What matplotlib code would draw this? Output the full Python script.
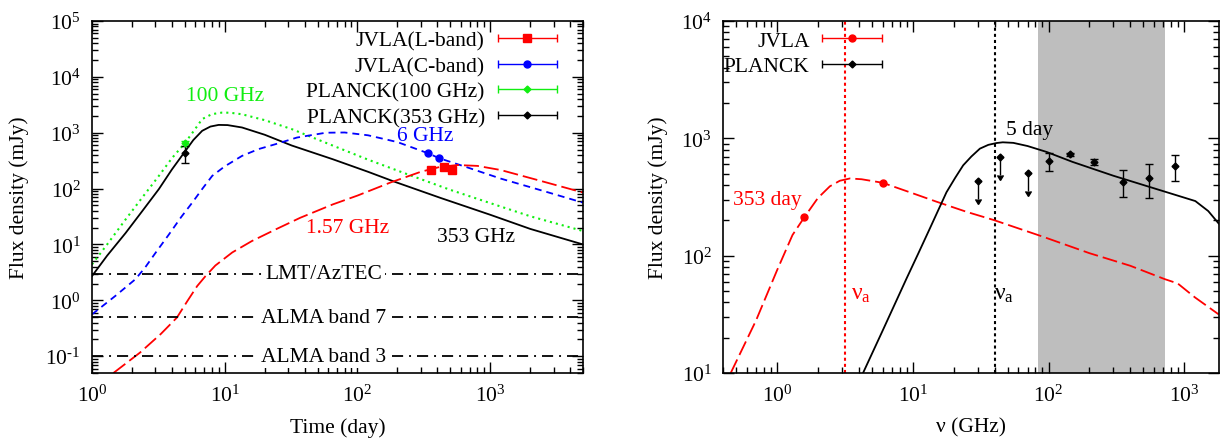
import numpy as np
import matplotlib
matplotlib.use('Agg')
import matplotlib.pyplot as plt
from matplotlib.container import ErrorbarContainer
from matplotlib.legend_handler import HandlerErrorbar
from matplotlib.ticker import LogLocator, FuncFormatter, NullFormatter

plt.rcParams['font.family'] = ['Liberation Serif', 'DejaVu Serif']
plt.rcParams['mathtext.fontset'] = 'custom'
plt.rcParams['mathtext.rm'] = 'Liberation Serif'
plt.rcParams['mathtext.it'] = 'Liberation Serif:italic'
plt.rcParams['font.size'] = 15.5
plt.rcParams['lines.scale_dashes'] = False
plt.rcParams['axes.linewidth'] = 1.2

# ---- light curves (time in days, flux in mJy)
t_353 = [1, 1.3, 1.79, 2.4, 3.19, 4, 5.06, 5.8, 6.76, 7.8, 9.0, 10.5, 13.5, 20, 32, 65, 120, 188, 423, 1000, 2000, 5000]
f_353 = [2.72, 6.3, 16, 40, 98, 220, 474, 740, 1082, 1290, 1380, 1370, 1241, 920, 590, 336, 200, 134, 68, 34, 19, 10]

t_100 = [1, 1.3, 1.79, 2.4, 3.19, 4, 5, 5.8, 6.76, 8, 9.5, 11, 13.5, 20, 32, 65, 120, 237, 500, 1000, 2000, 5000]
f_100 = [4.4, 10, 28, 70, 169, 350, 650, 1050, 1754, 2150, 2290, 2280, 2140, 1680, 1160, 590, 330, 181, 95, 55, 32, 17.4]

t_6 = [1, 1.5, 2.12, 2.5, 3, 3.79, 4.7, 5.69, 6.8, 8.05, 10, 13.5, 18, 24.2, 35, 57.7, 80, 120, 200, 341, 411, 700, 1200, 2500, 5000]
f_6 = [0.56, 1.2, 2.38, 3.8, 7.0, 15, 31, 56, 100, 169, 250, 385, 510, 625, 820, 1000, 1010, 900, 680, 428, 351, 232, 151, 91, 56]

t_157 = [1.45, 2.3, 3.3, 4.36, 5.2, 6.2, 7.17, 8.5, 11.4, 16, 24.2, 37, 65, 100, 178, 300, 420, 565, 800, 1200, 2140, 5000]
f_157 = [0.05, 0.116, 0.25, 0.49, 0.95, 1.8, 2.72, 4.2, 7.2, 11.5, 18.6, 30, 52, 75, 129, 200, 245, 264, 255, 215, 148, 85]

# sensitivity levels (mJy)
limit_levels = [3.0, 0.5, 0.1]
limit_names = ['LMT/AzTEC', 'ALMA band 7', 'ALMA band 3']

# observed points, left panel
lband_t = [356, 448, 518]
lband_f = [214, 241, 214]
cband_t = [341, 411]
cband_f = [428, 351]
pl100_t = [5]
pl100_f = [650]
pl100_err = [60]
pl353_t = [5]
pl353_f = [430]
pl353_err = [145]

# ---- spectra (frequency in GHz, flux in mJy)
nu_353d = [0.456, 0.7, 1.0, 1.3, 1.6, 2.0, 2.45, 2.9, 3.44, 4.2, 6, 10, 15, 25, 39.6, 91, 200, 400, 720, 893, 1200, 1790]
s_353d = [10, 28, 75, 150, 215, 310, 390, 435, 455, 448, 418, 340, 288, 236, 201, 145, 105, 82, 63, 58, 44, 31.6]

nu_5d = [4.3, 6, 9.0, 11, 13.4, 17.7, 20.5, 23.5, 27, 31.2, 36, 41.4, 46, 55, 70, 96.6, 150, 300, 720, 1205, 1500, 1790]
s_5d = [10, 23, 64, 105, 172, 347, 460, 589, 700, 817, 880, 912, 925, 915, 860, 766, 630, 480, 351, 292, 240, 188]

nu_a_353d = 3.19
nu_a_5d = 40
band_lo, band_hi = 83, 720

jvla_nu = [1.57, 6.0]
jvla_s = [212, 418]
planck_nu = [100, 143, 217, 353, 545, 857]
planck_s = [638, 731, 631, 427, 460, 582]
planck_err = [110, 25, 35, 110, 150, 145]
planck_ul_nu = [30, 44, 70]
planck_ul_s = [431, 692, 508]

RED = '#ff0000'
BLUE = '#0000ff'
GREEN = '#11ee11'


def pow10_label(v, pos):
    # plain hyphen in the exponent, as in the printed axes
    e = int(round(np.log10(v)))
    s = str(abs(e)) if e >= 0 else '\u2010' + str(abs(e))
    return r'$\mathdefault{10^{%s}}$' % s


def style_axes(ax):
    ax.set_xscale('log')
    ax.set_yscale('log')
    for axis in (ax.xaxis, ax.yaxis):
        axis.set_major_locator(LogLocator(base=10, numticks=20))
        axis.set_minor_locator(LogLocator(base=10, subs=np.arange(2, 10), numticks=50))
        axis.set_major_formatter(FuncFormatter(pow10_label))
        axis.set_minor_formatter(NullFormatter())
    ax.tick_params(which='both', direction='in', top=True, right=True, width=1.0, pad=8)
    ax.tick_params(which='major', length=8)
    ax.tick_params(which='minor', length=4)


def proxy(ax, color, marker, ms, label):
    return ax.errorbar([np.nan], [np.nan], xerr=[1], fmt=marker, color=color, ms=ms,
                       capsize=3, elinewidth=1.0, label=label)


fig = plt.figure(figsize=(12.2, 4.39), dpi=100)
ax1 = fig.add_axes([92 / 1220, 1 - 374 / 439, 491 / 1220, 352 / 439])
ax2 = fig.add_axes([723 / 1220, 1 - 374 / 439, 496 / 1220, 352 / 439])

# ---------------- left: light curves
ax1.plot(t_353, f_353, color='k', lw=1.3)
ax1.plot(t_100, f_100, color=GREEN, lw=1.5, dashes=(1.5, 2.9))
ax1.plot(t_6, f_6, color=BLUE, lw=1.3, dashes=(5, 3.6))
ax1.plot(t_157, f_157, color=RED, lw=1.3, dashes=(10.8, 3.6))

for level, name in zip(limit_levels, limit_names):
    ax1.axhline(level, color='k', lw=1.3, dashes=(8, 4.3, 1.4, 4.3))
    ax1.text(56, level, name, ha='center', va='center',
             bbox=dict(facecolor='white', edgecolor='none', pad=1.5))

ax1.plot(lband_t, lband_f, 's', color=RED, ms=5.5)
ax1.plot(cband_t, cband_f, 'o', color=BLUE, ms=5)
ax1.errorbar(pl100_t, pl100_f, yerr=pl100_err, fmt='D', color=GREEN, ms=3.5,
             capsize=3, elinewidth=1.0)
ax1.errorbar(pl353_t, pl353_f, yerr=pl353_err, fmt='D', color='k', ms=3.5,
             capsize=3, elinewidth=1.0)

ax1.text(10.1, 4570, '100 GHz', color=GREEN, ha='center', va='center')
ax1.text(326, 900, '6 GHz', color=BLUE, ha='center', va='center')
ax1.text(84, 20, '1.57 GHz', color=RED, ha='center', va='center')
ax1.text(780, 14, '353 GHz', color='k', ha='center', va='center')

style_axes(ax1)
ax1.set_xlim(1, 5000)
ax1.set_ylim(0.05, 1e5)
ax1.set_xlabel('Time (day)')
ax1.set_ylabel('Flux density (mJy)')
ax1.xaxis.set_label_coords(0.5, -0.125)
ax1.yaxis.set_label_coords(-0.128, 0.5)

h1 = [proxy(ax1, RED, 's', 5.5, 'JVLA(L-band)'),
      proxy(ax1, BLUE, 'o', 5, 'JVLA(C-band)'),
      proxy(ax1, GREEN, 'D', 3.5, 'PLANCK(100 GHz)'),
      proxy(ax1, 'k', 'D', 3.5, 'PLANCK(353 GHz)')]
ax1.legend(handles=h1, loc='upper right', bbox_to_anchor=(0.947, 0.972),
           frameon=False, markerfirst=False, handlelength=2.75, handletextpad=0.6,
           labelspacing=0.25, borderpad=0, borderaxespad=0,
           handler_map={ErrorbarContainer: HandlerErrorbar(xerr_size=1.38)})

# ---------------- right: spectra
ax2.axvspan(band_lo, band_hi, color='#bebebe', lw=0, zorder=0)
ax2.axvline(nu_a_353d, color=RED, lw=1.5, dashes=(2.2, 2.2))
ax2.axvline(nu_a_5d, color='k', lw=1.5, dashes=(2.2, 2.2))
ax2.plot(nu_353d, s_353d, color=RED, lw=1.3, dashes=(10.8, 3.6))
ax2.plot(nu_5d, s_5d, color='k', lw=1.3)

ax2.plot(jvla_nu, jvla_s, 'o', color=RED, ms=5)
ax2.errorbar(planck_nu, planck_s, yerr=planck_err, fmt='D', color='k', ms=3.5,
             capsize=3, elinewidth=1.0)
ax2.errorbar(planck_ul_nu, planck_ul_s, yerr=np.array(planck_ul_s) * 0.3, uplims=True,
             fmt='D', color='k', ms=3.5, capsize=2.5, elinewidth=1.0)

ax2.text(0.853, 302, '353 day', color=RED, ha='center', va='center')
ax2.text(73, 1186, '5 day', color='k', ha='center', va='center')
ax2.text(4.15, 48, r'$\mathrm{\nu_a}$', color=RED, ha='center', va='center', fontsize=17)
ax2.text(47, 48, r'$\mathrm{\nu_a}$', color='k', ha='center', va='center', fontsize=17)

style_axes(ax2)
ax2.set_xlim(0.4, 1800)
ax2.set_ylim(10, 1e4)
ax2.set_xlabel('ν (GHz)')
ax2.set_ylabel('Flux density (mJy)')
ax2.xaxis.set_label_coords(0.5, -0.125)
ax2.yaxis.set_label_coords(-0.111, 0.5)

h2 = [proxy(ax2, RED, 'o', 5, 'JVLA'),
      proxy(ax2, 'k', 'D', 3.5, 'PLANCK')]
ax2.legend(handles=h2, loc='upper right', bbox_to_anchor=(0.32, 0.972),
           frameon=False, markerfirst=False, handlelength=2.75, handletextpad=0.6,
           labelspacing=0.25, borderpad=0, borderaxespad=0,
           handler_map={ErrorbarContainer: HandlerErrorbar(xerr_size=1.38)})

fig.savefig('out.png', dpi=100)
